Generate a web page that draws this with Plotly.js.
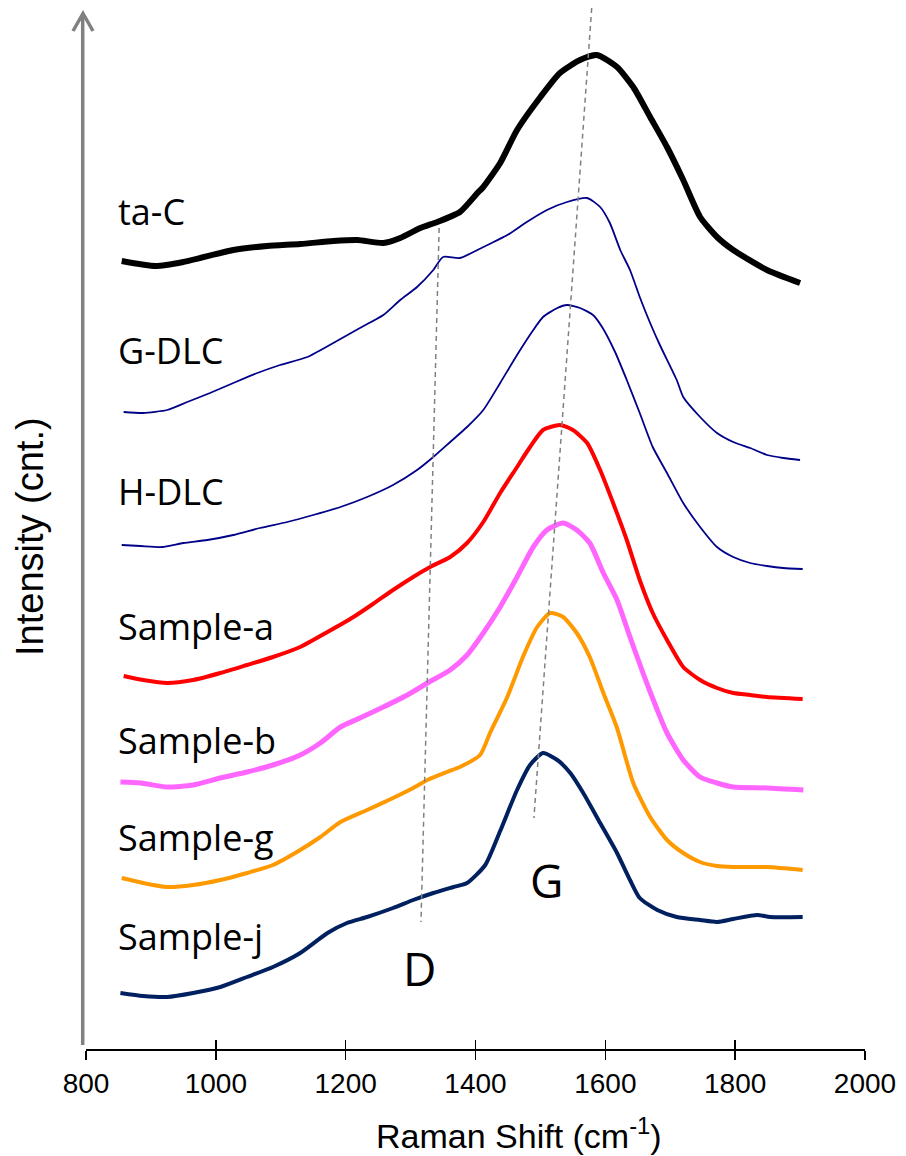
<!DOCTYPE html>
<html>
<head>
<meta charset="utf-8">
<script src="https://cdn.plot.ly/plotly-3.0.1.min.js"></script>
<style>html,body{margin:0;padding:0;background:#fff;}#chart{width:906px;height:1156px;}</style>
</head>
<body>
<div id="chart"></div>
<script>
// Raman shift (cm-1) and offset intensity (arbitrary counts)
const tacX = [855,907,950,1027,1079,1130,1181,1218,1258,1284,1315,1341,1376,1403,1412,1438,1464,1500,1530,1561,1587,1618,1643,1669,1695,1720,1746,1772,1797,1849,1900];
const tacY = [788,783,787,799,803,805,808,809,806,811,821,827,837,856,862,886,919,952,976,989,994,982,962,932,902,869,832,812,799,779,766];

const gdlcX = [858,888,925,956,991,1027,1064,1099,1141,1181,1222,1258,1284,1310,1335,1350,1376,1412,1449,1479,1510,1541,1572,1592,1607,1623,1638,1653,1669,1684,1710,1720,1746,1772,1797,1823,1849,1874,1900];
const gdlcY = [637,636,639,647,656,666,676,684,692,706,721,734,749,762,779,792,791,802,814,827,839,847,851,842,826,799,779,752,726,704,669,652,632,616,607,601,594,591,589];

const hdlcX = [855,884,917,950,987,1027,1068,1110,1150,1192,1233,1273,1310,1335,1361,1387,1412,1438,1464,1489,1504,1526,1541,1561,1581,1595,1615,1633,1653,1673,1695,1720,1746,1772,1797,1823,1849,1874,1904];
const hdlcY = [504,503,502,506,509,514,521,527,534,542,552,564,579,592,607,622,639,666,694,719,732,741,744,741,734,722,697,669,636,602,576,546,522,502,492,486,483,481,480];

const saX = [858,888,925,965,1007,1048,1088,1130,1172,1212,1242,1273,1304,1330,1361,1387,1412,1438,1464,1484,1504,1530,1550,1572,1592,1612,1633,1653,1673,1695,1720,1746,1772,1797,1823,1849,1904];
const saY = [373,369,366,369,376,384,392,402,417,432,445,459,472,482,492,506,527,556,582,602,619,624,619,606,579,546,509,469,436,409,382,369,361,356,354,352,350];

const sbX = [853,884,925,965,1007,1048,1088,1130,1161,1192,1222,1258,1295,1326,1361,1387,1412,1438,1464,1489,1510,1535,1556,1576,1597,1618,1638,1658,1680,1695,1720,1746,1772,1797,1849,1905];
const sbY = [267,266,262,264,271,277,284,294,306,322,331,342,354,366,379,394,416,442,472,502,519,526,519,506,476,449,412,376,339,316,289,272,266,262,261,259];

const sgX = [855,888,925,965,1007,1048,1088,1130,1161,1192,1233,1273,1304,1326,1356,1376,1407,1423,1449,1473,1495,1515,1535,1556,1576,1597,1618,1643,1669,1695,1720,1746,1772,1797,1849,1904];
const sgY = [171,166,162,164,169,176,184,199,212,227,239,251,261,269,277,282,294,317,352,392,422,436,432,416,392,356,321,266,232,209,196,187,183,182,182,179];

const sjX = [853,888,925,965,1007,1048,1088,1130,1172,1202,1233,1273,1304,1335,1366,1387,1415,1438,1464,1484,1504,1526,1546,1566,1592,1618,1638,1653,1680,1710,1746,1772,1797,1834,1854,1904];
const sjY = [56,53,52,56,62,72,82,96,116,126,132,141,149,156,162,166,184,218,259,284,296,289,276,256,226,196,169,151,139,132,129,127,130,134,132,132];

// guide lines for D and G band positions
const dGuideX = [1344, 1316];
const dGuideY = [821, 127];
const gGuideX = [1579, 1490];
const gGuideY = [1041, 231];

const seriesNames = ["ta-C","G-DLC","H-DLC","Sample-a","Sample-b","Sample-g","Sample-j"];
const xTicks = [800,1000,1200,1400,1600,1800,2000];

const styles = [
  {color:"#000000", width:6},
  {color:"#000088", width:1.8},
  {color:"#000088", width:1.8},
  {color:"#ff0000", width:4},
  {color:"#ff66ff", width:5},
  {color:"#ff9900", width:4},
  {color:"#002060", width:4}
];
const xs = [tacX,gdlcX,hdlcX,saX,sbX,sgX,sjX];
const ys = [tacY,gdlcY,hdlcY,saY,sbY,sgY,sjY];

const traces = [];
traces.push({x:dGuideX, y:dGuideY, xaxis:"x2", mode:"lines", line:{color:"#808080", width:1.5, dash:"5px,4px"}, hoverinfo:"skip"});
traces.push({x:gGuideX, y:gGuideY, xaxis:"x2", mode:"lines", line:{color:"#808080", width:1.5, dash:"5px,4px"}, hoverinfo:"skip"});
for (let i=0;i<xs.length;i++){
  traces.push({x:xs[i], y:ys[i], name:seriesNames[i], mode:"lines",
    line:{color:styles[i].color, width:styles[i].width, shape:"spline", smoothing:0.6}});
}

const H = 1041; // plot height in px
const py = p => (1049 - p) / H;      // pixel row -> paper y
const px = p => (p - 86) / 779;       // pixel column -> paper x

const labelFont = {family:"Open Sans, Noto Sans, sans-serif", size:36, color:"#000"};
const labelRows = [211, 350, 491, 627, 740, 837, 936];
const annotations = seriesNames.map((n,i)=>({
  text:n, xref:"paper", yref:"paper", x:px(116), y:py(labelRows[i]),
  xanchor:"left", yanchor:"middle", showarrow:false, font:labelFont
}));
annotations.push({text:"D", xref:"paper", yref:"paper", x:px(419), y:py(968), xanchor:"center", yanchor:"middle", showarrow:false,
  font:{family:"Open Sans, Noto Sans, sans-serif", size:46, color:"#000"}});
annotations.push({text:"G", xref:"paper", yref:"paper", x:px(546), y:py(880), xanchor:"center", yanchor:"middle", showarrow:false,
  font:{family:"Open Sans, Noto Sans, sans-serif", size:46, color:"#000"}});
annotations.push({text:"Raman Shift (cm<sup>-1</sup>)", xref:"paper", yref:"paper", x:px(519), y:py(1133), xanchor:"center", yanchor:"middle", showarrow:false,
  font:{family:"Liberation Sans, Arial, sans-serif", size:34, color:"#000"}});
annotations.push({text:"Intensity (cnt.)", xref:"paper", yref:"paper", x:px(30), y:py(537), xanchor:"center", yanchor:"middle", showarrow:false, textangle:-90,
  font:{family:"Liberation Sans, Arial, sans-serif", size:38, color:"#000"}});

const shapes = [
  {type:"line", xref:"paper", yref:"paper", x0:px(82.7), x1:px(82.7), y0:py(1045), y1:py(14), line:{color:"#808080", width:3.5}},
  {type:"path", xref:"paper", yref:"paper",
   path:"M "+px(73)+" "+py(31)+" L "+px(83)+" "+py(13.5)+" L "+px(93)+" "+py(31),
   line:{color:"#808080", width:3.5}}
];

const layout = {
  width:906, height:1156,
  margin:{l:86, r:41, t:8, b:107},
  paper_bgcolor:"#fff", plot_bgcolor:"#fff",
  showlegend:false, hovermode:false,
  xaxis:{range:[800,2000], tickvals:xTicks, ticktext:xTicks.map(String), ticks:"outside", ticklen:9, tickwidth:1.5, tickcolor:"#000",
    showline:true, linecolor:"#000", linewidth:1.5, showgrid:false, zeroline:false,
    tickfont:{family:"Liberation Sans, Arial, sans-serif", size:28, color:"#000"}},
  xaxis2:{range:[800,2000], overlaying:"x", anchor:"y", side:"bottom", tickvals:xTicks, ticks:"inside", ticklen:9, tickwidth:1.5, tickcolor:"#000",
    showticklabels:false, showline:false, showgrid:false, zeroline:false},
  yaxis:{range:[0,H], showticklabels:false, showline:false, showgrid:false, zeroline:false, ticks:""},
  annotations:annotations,
  shapes:shapes
};

Plotly.newPlot("chart", traces, layout, {staticPlot:true, displayModeBar:false});
</script>
</body>
</html>
